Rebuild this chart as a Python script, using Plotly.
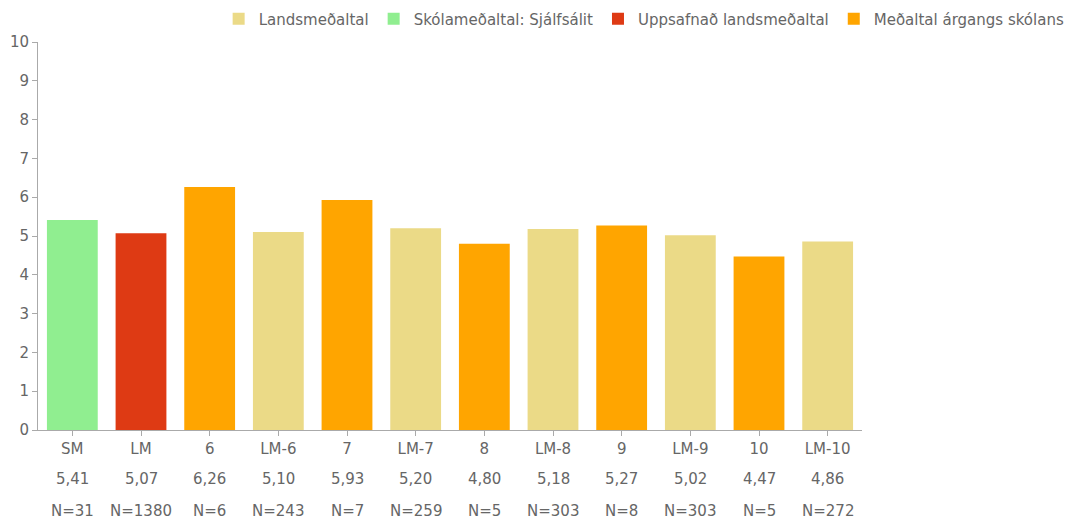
import plotly.graph_objects as go

# chart data
categories = ["SM", "LM", "6", "LM-6", "7", "LM-7", "8", "LM-8", "9", "LM-9", "10", "LM-10"]
values = [5.41, 5.07, 6.26, 5.10, 5.93, 5.20, 4.80, 5.18, 5.27, 5.02, 4.47, 4.86]
counts = [31, 1380, 6, 243, 7, 259, 5, 303, 8, 303, 5, 272]
groups = ["school", "national", "grade", "national_grade", "grade", "national_grade",
          "grade", "national_grade", "grade", "national_grade", "grade", "national_grade"]

SERIES = [
    ("national_grade", "Landsmeðaltal", "#EBDA87"),
    ("school", "Skólameðaltal: Sjálfsálit", "#90EE90"),
    ("national", "Uppsafnað landsmeðaltal", "#DE3A14"),
    ("grade", "Meðaltal árgangs skólans", "#FFA500"),
]

FONT = "DejaVu Sans, Arial"
GREY = "#666666"
LINE = "#AAAAAA"

fig = go.Figure()
for key, name, color in SERIES:
    xs = [c for c, g in zip(categories, groups) if g == key]
    ys = [v for v, g in zip(values, groups) if g == key]
    fig.add_trace(go.Bar(x=xs, y=ys, name=name, marker_color=color, marker_line_width=0))

# second and third label rows: mean value and N under each category
# (x given as category index so numeric names like "6" are not read as numbers)
for i, (val, n) in enumerate(zip(values, counts)):
    for text, shift in ((f"{val:.2f}".replace(".", ","), -49), (f"N={n}", -81)):
        fig.add_annotation(
            x=i, y=0, xref="x", yref="paper", text=text, showarrow=False,
            yanchor="middle", yshift=shift, font={"family": FONT, "size": 15, "color": GREY},
        )

fig.update_layout(
    width=1074,
    height=523,
    barmode="overlay",
    bargap=0.26,
    plot_bgcolor="white",
    paper_bgcolor="white",
    margin={"l": 38, "r": 212, "t": 42, "b": 93, "autoexpand": False},
    font={"family": FONT, "size": 15, "color": GREY},
    legend={
        "orientation": "h",
        "x": 1.252,
        "xanchor": "right",
        "y": 1.059,
        "yanchor": "middle",
        "font": {"family": FONT, "size": 15, "color": GREY},
        "traceorder": "normal",
    },
    xaxis={
        "type": "category",
        "categoryorder": "array",
        "categoryarray": categories,
        "showline": True,
        "linecolor": LINE,
        "ticks": "outside",
        "ticklen": 5,
        "tickcolor": LINE,
        "showgrid": False,
        "tickfont": {"family": FONT, "size": 15, "color": GREY},
    },
    yaxis={
        "range": [0, 10],
        "dtick": 1,
        "showline": True,
        "linecolor": LINE,
        "ticks": "outside",
        "ticklen": 5,
        "tickcolor": LINE,
        "showgrid": False,
        "zeroline": False,
        "tickfont": {"family": FONT, "size": 15, "color": GREY},
    },
)

# drop the default 8px body margin so the figure fills the window exactly
fig.write_html(
    "out.html",
    config={"displayModeBar": False},
    post_script="document.body.style.margin = '0';",
)
